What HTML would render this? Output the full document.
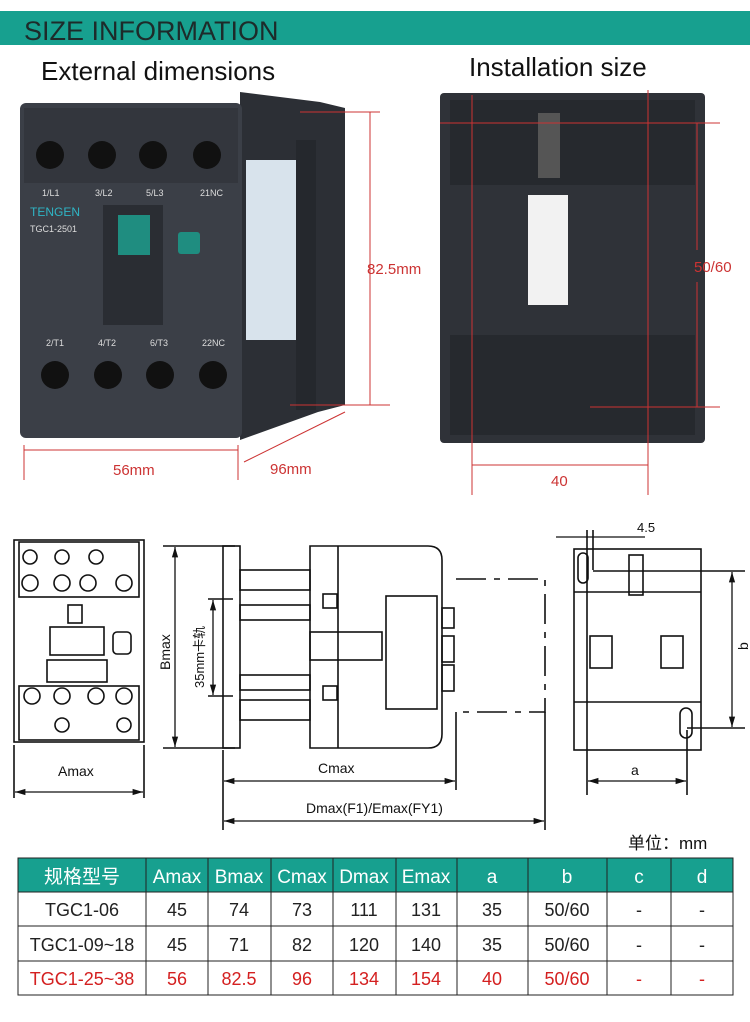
<!DOCTYPE html>
<html><head><meta charset="utf-8"><style>
body{margin:0;background:#fff;width:750px;height:1017px;overflow:hidden;font-family:"Liberation Sans","Noto Sans CJK SC",sans-serif}
</style></head><body>
<svg width="750" height="1017" viewBox="0 0 750 1017" xmlns="http://www.w3.org/2000/svg" font-family="Liberation Sans, Noto Sans CJK SC, sans-serif">
<defs>
<marker id="a" viewBox="0 0 10 10" refX="10" refY="5" markerWidth="8" markerHeight="8" orient="auto-start-reverse"><path d="M0 2 L10 5 L0 8 Z" fill="#111"/></marker>
</defs>
<rect x="0" y="11" width="750" height="34" fill="#17a08f"/>
<text x="24" y="40" font-size="27" fill="#1d2b2a">SIZE INFORMATION</text>
<text x="41" y="80" font-size="26" fill="#111">External dimensions</text>
<text x="469" y="76" font-size="26" fill="#111">Installation size</text>

<polygon points="240,92 320,102 345,108 345,405 318,412 240,440" fill="#2c2f35"/>
<rect x="20" y="103" width="222" height="335" rx="6" fill="#3b3f47"/>
<rect x="24" y="108" width="214" height="75" fill="#33363d"/>
<g fill="#111"><circle cx="50" cy="155" r="14"/><circle cx="102" cy="155" r="14"/><circle cx="153" cy="155" r="14"/><circle cx="207" cy="155" r="14"/>
<circle cx="55" cy="375" r="14"/><circle cx="108" cy="375" r="14"/><circle cx="160" cy="375" r="14"/><circle cx="213" cy="375" r="14"/></g>
<g font-size="9" fill="#ddd"><text x="42" y="196">1/L1</text><text x="95" y="196">3/L2</text><text x="146" y="196">5/L3</text><text x="200" y="196">21NC</text>
<text x="46" y="346">2/T1</text><text x="98" y="346">4/T2</text><text x="150" y="346">6/T3</text><text x="202" y="346">22NC</text></g>
<text x="30" y="216" font-size="12" fill="#2fb5c5">TENGEN</text>
<text x="30" y="232" font-size="9" fill="#ddd">TGC1-2501</text>
<rect x="103" y="205" width="60" height="120" fill="#2a2d33"/>
<rect x="118" y="215" width="32" height="40" fill="#1f8d80"/>
<rect x="178" y="232" width="22" height="22" rx="3" fill="#1f8d80"/>
<rect x="246" y="160" width="50" height="180" fill="#d8e3ec"/>
<rect x="296" y="140" width="20" height="270" fill="#25282d"/>
<g stroke="#c33" stroke-width="1" fill="none">
<line x1="300" y1="112" x2="380" y2="112"/><line x1="290" y1="405" x2="390" y2="405"/><line x1="370" y1="112" x2="370" y2="405"/>
<line x1="24" y1="445" x2="24" y2="480"/><line x1="238" y1="445" x2="238" y2="480"/><line x1="24" y1="450" x2="238" y2="450"/>
<line x1="244" y1="462" x2="345" y2="412"/></g>
<text x="367" y="274" font-size="15" fill="#c33">82.5mm</text>
<text x="113" y="475" font-size="15" fill="#c33">56mm</text>
<text x="270" y="474" font-size="15" fill="#c33">96mm</text>

<rect x="440" y="93" width="265" height="350" rx="4" fill="#2f3238"/>
<rect x="450" y="100" width="245" height="85" fill="#26292e"/>
<rect x="450" y="335" width="245" height="100" fill="#26292e"/>
<rect x="528" y="195" width="40" height="110" fill="#f2f2f2"/>
<rect x="538" y="113" width="22" height="65" fill="#555"/>
<g stroke="#c33" stroke-width="1" fill="none">
<line x1="472" y1="95" x2="472" y2="495"/><line x1="648" y1="90" x2="648" y2="495"/>
<line x1="440" y1="123" x2="720" y2="123"/><line x1="590" y1="407" x2="720" y2="407"/><line x1="697" y1="123" x2="697" y2="250"/><line x1="697" y1="282" x2="697" y2="407"/>
<line x1="472" y1="465" x2="648" y2="465"/></g>
<text x="694" y="272" font-size="15" fill="#c33">50/60</text>
<text x="551" y="486" font-size="15" fill="#c33">40</text>

<g stroke="#111" stroke-width="1.6" fill="none">
<rect x="14" y="540" width="130" height="202"/>
<rect x="19" y="542" width="120" height="55"/>
<rect x="19" y="686" width="120" height="54"/>
<circle cx="30" cy="557" r="7"/><circle cx="62" cy="557" r="7"/><circle cx="96" cy="557" r="7"/><circle cx="30" cy="583" r="8"/><circle cx="62" cy="583" r="8"/><circle cx="88" cy="583" r="8"/><circle cx="124" cy="583" r="8"/>
<circle cx="32" cy="696" r="8"/><circle cx="62" cy="696" r="8"/><circle cx="96" cy="696" r="8"/><circle cx="124" cy="696" r="8"/><circle cx="62" cy="725" r="7"/><circle cx="124" cy="725" r="7"/>
<rect x="50" y="627" width="54" height="28"/><rect x="47" y="660" width="60" height="22"/><rect x="68" y="605" width="14" height="18"/><rect x="113" y="632" width="18" height="22" rx="4"/>
<line x1="14" y1="745" x2="14" y2="798"/><line x1="144" y1="745" x2="144" y2="798"/>
<line x1="163" y1="546" x2="235" y2="546"/><line x1="163" y1="748" x2="235" y2="748"/>
<rect x="223" y="546" width="17" height="202"/>
<line x1="208" y1="599" x2="233" y2="599"/><line x1="208" y1="696" x2="233" y2="696"/>
<rect x="240" y="570" width="70" height="20"/><rect x="240" y="605" width="70" height="15"/><rect x="240" y="675" width="70" height="15"/><rect x="240" y="700" width="70" height="20"/>
<path d="M310 546 H428 Q442 546 442 560 V734 Q442 748 428 748 H310 Z"/>
<line x1="338" y1="546" x2="338" y2="748"/>
<rect x="386" y="596" width="51" height="113"/><rect x="310" y="632" width="72" height="28"/>
<rect x="323" y="594" width="14" height="14"/><rect x="323" y="686" width="14" height="14"/>
<rect x="442" y="608" width="12" height="20"/><rect x="442" y="636" width="12" height="26"/><rect x="442" y="665" width="12" height="26"/>
<path d="M456 579 H545 V712 H456" stroke-dasharray="30,8,6,8"/>
<line x1="223" y1="750" x2="223" y2="830"/><line x1="456" y1="712" x2="456" y2="790"/><line x1="545" y1="712" x2="545" y2="830"/>
<rect x="574" y="549" width="127" height="201"/>
<rect x="578" y="553" width="10" height="30" rx="5"/><rect x="680" y="708" width="12" height="30" rx="6"/>
<rect x="629" y="555" width="14" height="40"/><rect x="590" y="636" width="22" height="32"/><rect x="661" y="636" width="22" height="32"/>
<line x1="574" y1="702" x2="701" y2="702"/><line x1="574" y1="592" x2="701" y2="592"/>
<line x1="587" y1="530" x2="587" y2="795"/><line x1="593" y1="530" x2="593" y2="570"/><line x1="687" y1="730" x2="687" y2="795"/>
<line x1="593" y1="571" x2="745" y2="571"/><line x1="687" y1="728" x2="745" y2="728"/>
</g>
<g stroke="#111" stroke-width="1.3" fill="none" marker-start="url(#a)" marker-end="url(#a)">
<line x1="15" y1="792" x2="143" y2="792"/>
<line x1="175" y1="547" x2="175" y2="747"/>
<line x1="213" y1="600" x2="213" y2="695"/>
<line x1="224" y1="781" x2="455" y2="781"/><line x1="224" y1="821" x2="544" y2="821"/>
<line x1="732" y1="572" x2="732" y2="727"/>
<line x1="588" y1="781" x2="686" y2="781"/>
</g>
<line x1="556" y1="537" x2="645" y2="537" stroke="#111" stroke-width="1.3"/>
<g fill="#111" font-size="14">
<text x="58" y="776">Amax</text>
<text x="318" y="773">Cmax</text>
<text x="306" y="813">Dmax(F1)/Emax(FY1)</text>
<text x="631" y="775">a</text>
<text x="637" y="532" font-size="13">4.5</text>
<text transform="translate(170,670) rotate(-90)">Bmax</text>
<text transform="translate(204,688) rotate(-90)" font-size="13">35mm卡轨</text>
<text transform="translate(748,650) rotate(-90)" font-size="14">b</text>
</g>

<text x="628" y="849" font-size="17" fill="#111">单位：mm</text>
<rect x="18" y="858" width="715" height="34" fill="#17a08f"/>
<g stroke="#222" stroke-width="1" fill="none">
<rect x="18" y="858" width="715" height="137"/>
<line x1="18" y1="892" x2="733" y2="892"/><line x1="18" y1="926" x2="733" y2="926"/><line x1="18" y1="961" x2="733" y2="961"/>
<line x1="146" y1="858" x2="146" y2="995"/><line x1="208" y1="858" x2="208" y2="995"/><line x1="271" y1="858" x2="271" y2="995"/><line x1="333" y1="858" x2="333" y2="995"/><line x1="396" y1="858" x2="396" y2="995"/><line x1="457" y1="858" x2="457" y2="995"/><line x1="528" y1="858" x2="528" y2="995"/><line x1="607" y1="858" x2="607" y2="995"/><line x1="671" y1="858" x2="671" y2="995"/>
</g>
<g font-size="19" text-anchor="middle" fill="#fff">
<text x="82" y="883">规格型号</text><text x="177" y="883">Amax</text><text x="239" y="883">Bmax</text><text x="302" y="883">Cmax</text><text x="364" y="883">Dmax</text><text x="426" y="883">Emax</text><text x="492" y="883">a</text><text x="567" y="883">b</text><text x="639" y="883">c</text><text x="702" y="883">d</text>
</g>
<g font-size="18" text-anchor="middle" fill="#222">
<text x="82" y="916">TGC1-06</text><text x="177" y="916">45</text><text x="239" y="916">74</text><text x="302" y="916">73</text><text x="364" y="916">111</text><text x="426" y="916">131</text><text x="492" y="916">35</text><text x="567" y="916">50/60</text><text x="639" y="916">-</text><text x="702" y="916">-</text>
<text x="82" y="951">TGC1-09~18</text><text x="177" y="951">45</text><text x="239" y="951">71</text><text x="302" y="951">82</text><text x="364" y="951">120</text><text x="426" y="951">140</text><text x="492" y="951">35</text><text x="567" y="951">50/60</text><text x="639" y="951">-</text><text x="702" y="951">-</text>
</g>
<g font-size="18" text-anchor="middle" fill="#d42020">
<text x="82" y="985">TGC1-25~38</text><text x="177" y="985">56</text><text x="239" y="985">82.5</text><text x="302" y="985">96</text><text x="364" y="985">134</text><text x="426" y="985">154</text><text x="492" y="985">40</text><text x="567" y="985">50/60</text><text x="639" y="985">-</text><text x="702" y="985">-</text>
</g>
</svg>
</body></html>
